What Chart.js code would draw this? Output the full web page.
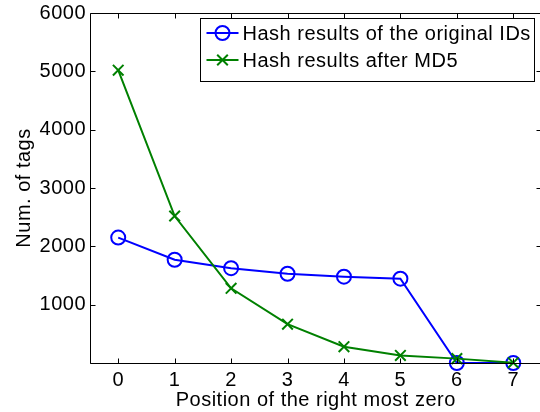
<!DOCTYPE html>
<html><head><meta charset="utf-8">
<script src="https://cdn.jsdelivr.net/npm/chart.js@4.4.1/dist/chart.umd.min.js"></script>
<style>html,body{margin:0;padding:0;background:#fff;overflow:hidden;}#wrap{width:540px;height:412px;overflow:hidden;}</style>
</head><body><div id="wrap"><canvas id="c" width="551" height="412" style="width:551px;height:412px;display:block"></canvas></div>
<script>
const positions = ['0','1','2','3','4','5','6','7'];
const originalIDs = [2150, 1770, 1625, 1530, 1480, 1445, 0, 0];
const afterMD5 = [5020, 2520, 1280, 665, 280, 130, 75, 5];
const yTicks = [0, 1000, 2000, 3000, 4000, 5000, 6000];
const seriesNames = ['Hash results of the original IDs', 'Hash results after MD5'];
const xTitle = 'Position of the right most zero';
const yTitle = 'Num. of tags';

const FAMILY = "'Liberation Sans', Arial, sans-serif";
const LS = '0.5px';
Chart.defaults.font.family = FAMILY;
Chart.defaults.font.size = 20;
Chart.defaults.color = '#000';

const spacing = {
  id: 'spacing',
  beforeUpdate(c) { c.ctx.letterSpacing = LS; },
  beforeDraw(c) { c.ctx.letterSpacing = LS; }
};

const frame = {
  id: 'frame',
  afterDraw(c) {
    const ctx = c.ctx, a = c.chartArea, x = c.scales.x, y = c.scales.y;
    const L = Math.round(a.left) + 0.5, T = Math.round(a.top) + 0.5, B = Math.round(a.bottom) + 0.5, R = a.right;
    ctx.save();
    ctx.strokeStyle = '#000';
    ctx.lineWidth = 1;
    ctx.beginPath();
    ctx.moveTo(R + 2, T); ctx.lineTo(L, T); ctx.lineTo(L, B); ctx.lineTo(R + 2, B);
    const tl = 5;
    for (let i = 0; i < positions.length; i++) {
      const px = Math.round(x.getPixelForTick(i)) + 0.5;
      ctx.moveTo(px, B); ctx.lineTo(px, B - tl);
      ctx.moveTo(px, T); ctx.lineTo(px, T + tl);
    }
    yTicks.forEach(v => {
      const py = Math.round(y.getPixelForValue(v)) + 0.5;
      ctx.moveTo(L, py); ctx.lineTo(L + tl, py);
      ctx.moveTo(R, py); ctx.lineTo(R - tl, py);
    });
    ctx.stroke();
    ctx.restore();
  }
};

const boxLegend = {
  id: 'boxLegend',
  afterDraw(c) {
    const ctx = c.ctx, a = c.chartArea;
    const w = 334, h = 63;
    const left = Math.round(a.right - 8 - w) + 0.5, top = Math.round(a.top + 5) + 0.5;
    ctx.save();
    ctx.letterSpacing = LS;
    ctx.fillStyle = '#fff';
    ctx.fillRect(left, top, w, h);
    ctx.strokeStyle = '#000';
    ctx.lineWidth = 1;
    ctx.strokeRect(left, top, w, h);
    const rows = [14.5, 41.5];
    [0, 1].forEach((di, k) => {
      const ds = c.data.datasets[di];
      const cy = top + rows[k];
      const x0 = left + 6, x1 = left + 38, xm = (x0 + x1) / 2;
      ctx.strokeStyle = ds.borderColor;
      ctx.lineWidth = ds.borderWidth;
      ctx.beginPath(); ctx.moveTo(x0, cy); ctx.lineTo(x1, cy); ctx.stroke();
      ctx.fillStyle = 'rgba(0,0,0,0)';
      Chart.helpers.drawPoint(ctx, {pointStyle: ds.pointStyle, radius: ds.pointRadius, rotation: 0, borderWidth: ds.pointBorderWidth}, xm, cy);
      ctx.fillStyle = '#000';
      ctx.font = '20px ' + FAMILY;
      ctx.textBaseline = 'middle';
      ctx.textAlign = 'left';
      ctx.fillText(ds.label, left + 42, cy + 1);
    });
    ctx.restore();
  }
};

new Chart(document.getElementById('c'), {
  type: 'line',
  data: {
    labels: positions,
    datasets: [
      {
        label: seriesNames[0], data: originalIDs,
        borderColor: '#0000ff', backgroundColor: 'rgba(0,0,0,0)',
        pointBackgroundColor: 'rgba(0,0,0,0)', pointBorderColor: '#0000ff',
        pointStyle: 'circle', pointRadius: 7, pointBorderWidth: 2,
        borderWidth: 2, tension: 0, clip: false, order: 1
      },
      {
        label: seriesNames[1], data: afterMD5,
        borderColor: '#008000', backgroundColor: 'rgba(0,0,0,0)',
        pointBackgroundColor: 'rgba(0,0,0,0)', pointBorderColor: '#008000',
        pointStyle: 'crossRot', pointRadius: 7.5, pointBorderWidth: 2,
        borderWidth: 2, tension: 0, clip: false, order: 0
      }
    ]
  },
  options: {
    responsive: false,
    animation: false,
    devicePixelRatio: 1,
    layout: { padding: { top: 13, right: 0, bottom: 0, left: 0 } },
    plugins: { legend: { display: false }, tooltip: { enabled: false } },
    scales: {
      x: {
        type: 'category', offset: true,
        grid: { display: false, drawTicks: false },
        border: { display: false },
        ticks: { padding: 5, maxRotation: 0, autoSkip: false },
        title: { display: true, text: xTitle, padding: { top: 0, bottom: 0 } },
        afterFit(s) { s.height = 49; }
      },
      y: {
        min: 0, max: 6000,
        grid: { display: false, drawTicks: false },
        border: { display: false },
        afterBuildTicks(s) { s.ticks = yTicks.map(v => ({ value: v })); },
        ticks: { padding: 4, callback: v => (v === 0 ? '' : String(v)) },
        title: { display: true, text: yTitle, padding: { top: 12, bottom: 0 } },
        afterFit(s) {
          s.width = 90; s.paddingTop = 13; s.paddingBottom = 0;
          if (s._margins) { s._margins.top = 13; s._margins.bottom = 0; }
        }
      }
    }
  },
  plugins: [spacing, frame, boxLegend]
});
</script>
</body></html>
